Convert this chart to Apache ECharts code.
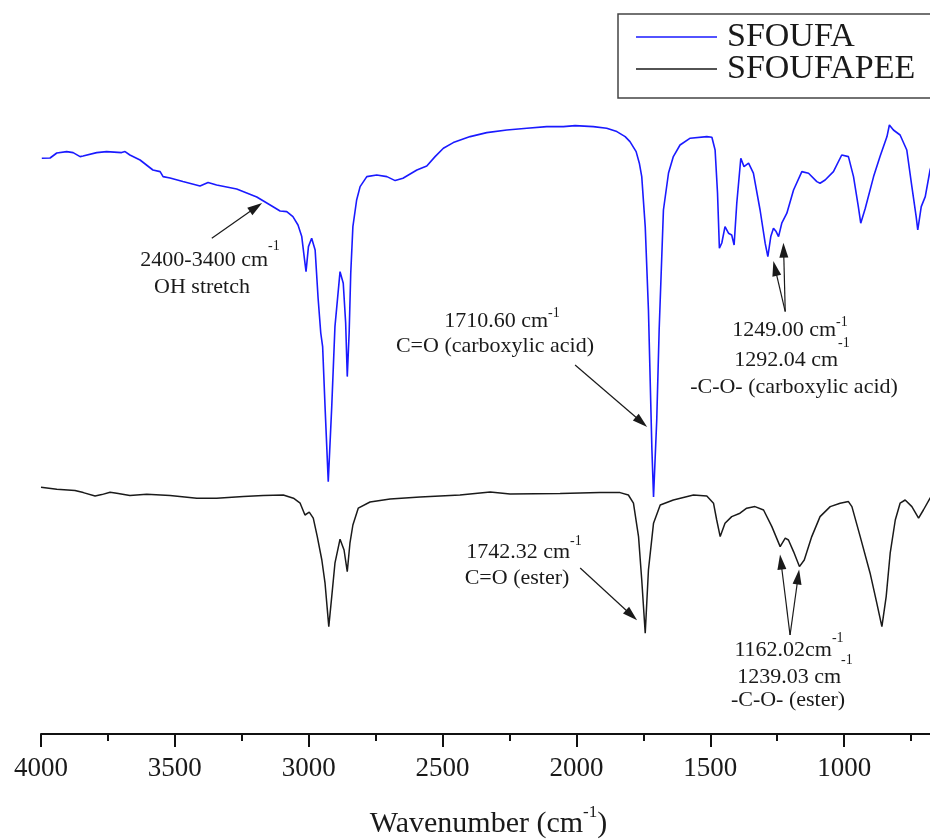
<!DOCTYPE html>
<html>
<head>
<meta charset="utf-8">
<script src="https://cdn.jsdelivr.net/npm/echarts@6/dist/echarts.min.js"></script>
<style>
  html, body { margin: 0; padding: 0; background: #fff; }
  #chart { width: 930px; height: 839px; }
</style>
</head>
<body>
<div id="chart"></div>
<script>
// FTIR spectra, transmittance in arbitrary offset units
const sfoufaWavenumber = [3997, 3992, 3966, 3941, 3904, 3880, 3854, 3843, 3792, 3755, 3699, 3686, 3668, 3630, 3582, 3555, 3544, 3518, 3470, 3406, 3376, 3344, 3269, 3194, 3144, 3107, 3082, 3059, 3040, 3026, 3017, 3010, 3001, 2989, 2976, 2965, 2955, 2948, 2939, 2927, 2914, 2902, 2883, 2871, 2862, 2856, 2849, 2843, 2835, 2821, 2808, 2802, 2783, 2746, 2708, 2677, 2648, 2596, 2559, 2528, 2497, 2460, 2397, 2335, 2260, 2185, 2111, 2049, 2005, 1937, 1887, 1849, 1818, 1800, 1777, 1765, 1756, 1743, 1731, 1718, 1712, 1700, 1691, 1675, 1656, 1638, 1613, 1575, 1513, 1494, 1482, 1473, 1466, 1457, 1445, 1432, 1420, 1411, 1401, 1386, 1374, 1357, 1339, 1314, 1295, 1285, 1274, 1264, 1254, 1245, 1233, 1214, 1189, 1158, 1133, 1102, 1090, 1071, 1040, 1009, 984, 965, 947, 938, 921, 890, 866, 840, 831, 816, 791, 766, 747, 731, 725, 712, 697, 679, 668];
const sfoufaT = [287.9, 288.5, 288, 290.5, 291.2, 290.7, 288.7, 289, 290.7, 291.2, 290.7, 291.2, 289.5, 287, 282, 281.2, 278.7, 278, 276.2, 274, 275.7, 274.5, 272.5, 268.5, 264.5, 261.5, 261.2, 258.7, 254.5, 248.7, 238.7, 231.2, 243.7, 247.9, 242, 218, 200.5, 193.7, 163.7, 126.2, 163.7, 203.7, 231.2, 225.4, 205.5, 178.7, 200.5, 230.5, 253.7, 267, 273.7, 274.5, 278.7, 279.5, 278.7, 276.7, 277.9, 282, 284, 288.7, 292.9, 295.7, 298.7, 300.7, 302, 302.9, 303.7, 303.7, 304.2, 303.7, 302.9, 301.2, 298.7, 296.2, 291.2, 285.4, 278.7, 253.7, 212, 142, 118.5, 157, 202, 262, 280.5, 288.7, 294.5, 297.9, 298.7, 298.4, 292, 270.5, 242.9, 245.5, 253.7, 250.4, 249.5, 244.5, 265.5, 287.9, 283.7, 285.4, 280.4, 262, 245.4, 238.7, 248.7, 252.9, 251.2, 248.7, 255.4, 260.4, 272, 281.2, 280.4, 276.2, 275.4, 277, 281.2, 289.5, 288.7, 278.7, 263.7, 255.4, 262.9, 278.7, 288.7, 298.7, 304.5, 302, 299.5, 292, 273.7, 258.7, 252, 263.7, 268.7, 282, 287];

const sfoufapeeWavenumber = [4000, 3941, 3873, 3842, 3798, 3773, 3742, 3717, 3668, 3605, 3518, 3418, 3344, 3244, 3170, 3095, 3057, 3032, 3014, 2998, 2983, 2968, 2951, 2939, 2925, 2914, 2902, 2883, 2868, 2856, 2846, 2835, 2815, 2771, 2696, 2584, 2435, 2322, 2248, 2061, 1912, 1837, 1806, 1787, 1768, 1756, 1743, 1731, 1712, 1687, 1638, 1563, 1513, 1488, 1476, 1463, 1445, 1420, 1389, 1364, 1333, 1301, 1270, 1239, 1220, 1208, 1189, 1167, 1149, 1121, 1090, 1052, 1015, 984, 971, 940, 903, 878, 859, 843, 828, 809, 791, 772, 747, 722, 704, 679, 668];
const sfoufapeeT = [123.4, 122.4, 121.7, 120.7, 119, 119.7, 120.9, 120.4, 119.2, 119.9, 119.2, 117.9, 117.9, 118.7, 119.2, 119.5, 117.9, 115.4, 109.5, 110.9, 107.9, 98.7, 87, 75.4, 53.7, 68.7, 85.4, 97.4, 92, 81.2, 95.4, 104.5, 112.9, 116, 117.5, 118.5, 119.5, 121, 120, 120.2, 120.7, 120.7, 119.5, 115.4, 98.7, 77, 50.4, 82, 105.4, 114.5, 117, 119.5, 119, 115.4, 107, 98.7, 105.4, 108.7, 110.4, 112.9, 113.7, 112, 103.7, 93.7, 97.9, 97, 91.2, 83.7, 87, 98.7, 108.7, 113.7, 115.4, 116.2, 113.7, 98.7, 80.4, 65.4, 53.7, 68.7, 90.4, 107, 115.4, 117, 113.7, 107.9, 112, 117.9, 120];

// arrows: [from, to] in (wavenumber, T)
const sfoufaArrows = [
  [[3362, 247.9], [3197, 263.4]],
  [[2005, 184.5], [1757, 156]],
  [[1220, 211.2], [1258, 232.8]],
  [[1220, 211.2], [1226, 241.9]],
];
const sfoufapeeArrows = [
  [[1986, 83], [1794, 59.4]],
  [[1202, 49.5], [1236, 86]],
  [[1202, 49.5], [1172, 78.5]],
];

const serif = "'Liberation Serif', 'Times New Roman', serif";
const ink = "#1a1a1a";

const zip = (xs, ys) => xs.map((x, i) => [x, ys[i]]);
const arrowData = (list) => list.map(([a, b]) => [{ coord: a }, { coord: b }]);

// annotation text: [centerX, centerY, text, superscript rise or null]
const notes = [
  [210, 260, "2400-3400 cm", 14],
  [202, 287, "OH stretch", null],
  [502, 321, "1710.60 cm", 8],
  [495, 346, "C=O (carboxylic acid)", null],
  [790, 330, "1249.00 cm", 8],
  [792, 360, "1292.04 cm", 17],
  [794, 387, "-C-O- (carboxylic acid)", null],
  [524, 552, "1742.32 cm", 11],
  [517, 578, "C=O (ester)", null],
  [789, 650, "1162.02cm", 12],
  [795, 677, "1239.03 cm", 17],
  [788, 700, "-C-O- (ester)", null],
];

const graphics = notes.map(([x, y, text, rise]) => {
  const style = {
    fontSize: 22,
    fontFamily: serif,
    fill: ink,
    align: "center",
    verticalAlign: "middle",
  };
  if (rise == null) {
    style.text = text;
  } else {
    style.text = `{n|${text}}{s|-1}`;
    style.rich = {
      n: { fontSize: 22, fontFamily: serif, lineHeight: 2 * (rise + 7) },
      s: { fontSize: 14, fontFamily: serif, lineHeight: 14, verticalAlign: "top" },
    };
  }
  return { type: "text", x, y, silent: true, style };
});

const markArrows = (list) => ({
  silent: true,
  symbol: ["none", "triangle"],
  symbolSize: [9, 15],
  animation: false,
  label: { show: false },
  emphasis: { disabled: true },
  lineStyle: { color: ink, width: 1.2, type: "solid" },
  data: arrowData(list),
});

const myChart = echarts.init(document.getElementById("chart"));
myChart.setOption({
  animation: false,
  backgroundColor: "#fff",
  grid: { left: 41, right: -48, top: 0, bottom: 105, outerBoundsMode: "none" },
  legend: {
    orient: "vertical",
    left: 618,
    top: 14,
    padding: [6, 40, 12, 18],
    borderColor: "#444",
    borderWidth: 1.5,
    icon: "rect",
    itemWidth: 81,
    itemHeight: 1.5,
    itemGap: -2,
    textStyle: {
      fontSize: 34,
      fontFamily: serif,
      color: ink,
      lineHeight: 33,
      padding: [0, 0, 0, 5],
    },
    data: ["SFOUFA", "SFOUFAPEE"],
  },
  xAxis: {
    type: "value",
    inverse: true,
    min: 500,
    max: 4000,
    interval: 500,
    name: "Wavenumber (cm{s|-1})",
    nameLocation: "middle",
    nameGap: 70,
    nameTextStyle: {
      fontSize: 30,
      fontFamily: serif,
      color: ink,
      lineHeight: 40,
      padding: [0, 42, 0, 0],
      rich: {
        s: { fontSize: 17, fontFamily: serif, lineHeight: 18, verticalAlign: "top" },
      },
    },
    axisLine: { lineStyle: { color: "#111", width: 2 } },
    axisTick: { length: 13, lineStyle: { color: "#111", width: 2 } },
    minorTick: { show: true, splitNumber: 2, length: 7, lineStyle: { color: "#111", width: 2 } },
    splitLine: { show: false },
    axisLabel: {
      fontSize: 27,
      fontFamily: serif,
      color: ink,
      margin: 21,
      formatter: (v) => String(v),
    },
  },
  yAxis: {
    type: "value",
    min: 0,
    max: 367,
    show: false,
  },
  series: [
    {
      name: "SFOUFA",
      type: "line",
      symbol: "none",
      color: "#1a1aff",
      lineStyle: { width: 1.6 },
      emphasis: { disabled: true },
      data: zip(sfoufaWavenumber, sfoufaT),
      markLine: markArrows(sfoufaArrows),
    },
    {
      name: "SFOUFAPEE",
      type: "line",
      symbol: "none",
      color: "#1a1a1a",
      lineStyle: { width: 1.5 },
      emphasis: { disabled: true },
      data: zip(sfoufapeeWavenumber, sfoufapeeT),
      markLine: markArrows(sfoufapeeArrows),
    },
  ],
  graphic: graphics,
});
</script>
</body>
</html>
